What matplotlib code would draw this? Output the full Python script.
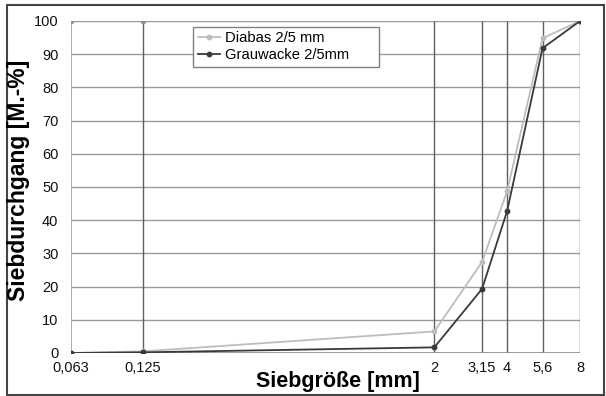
import matplotlib
matplotlib.use("Agg")
import matplotlib.pyplot as plt
from matplotlib.patches import Rectangle

plt.rcParams['font.family'] = ['Liberation Sans', 'DejaVu Sans']

sieve_sizes = [0.063, 0.125, 2, 3.15, 4, 5.6, 8]
tick_labels = ["0,063", "0,125", "2", "3,15", "4", "5,6", "8"]
diabas = [0, 0.5, 6.5, 27.4, 48.8, 94.8, 100]
grauwacke = [0, 0.2, 1.7, 19.3, 42.8, 91.8, 100]
sieve_lines = [0.125, 2, 3.15, 4, 5.6, 8]
marked_top = [0.063, 0.125]
y_ticks = list(range(0, 101, 10))

W, H = 606, 396
fig = plt.figure(figsize=(W / 100, H / 100), dpi=100)
ax = fig.add_axes([71 / W, 1 - 353 / H, (580 - 71) / W, (353 - 21) / H])

ax.set_xscale('log')
ax.set_xlim(0.063, 8)
ax.set_ylim(0, 100)

# horizontal grid
for y in y_ticks[1:]:
    ax.axhline(y, color='#9a9a9a', lw=1.0, zorder=1)
# vertical sieve lines
ax.vlines(sieve_lines, 0, 100, color='#606060', lw=1.0, zorder=1)
ax.vlines([sieve_sizes[0]], 0, 100, color='#a0a0a0', lw=1.2, zorder=1)
ax.plot(marked_top, [100] * len(marked_top), linestyle='none', marker='o',
        ms=3, color='#909090', zorder=2)

ax.plot(sieve_sizes, diabas, color='#bdbdbd', lw=1.3, marker='o', ms=3.2,
        label='Diabas 2/5 mm', zorder=3)
ax.plot(sieve_sizes, grauwacke, color='#3a3a3a', lw=1.3, marker='o', ms=3.2,
        label='Grauwacke 2/5mm', zorder=4)

for s in ax.spines.values():
    s.set_visible(False)
ax.axhline(0, color='#8a8a8a', lw=1.2, zorder=1)

ax.set_xticks(sieve_sizes)
ax.set_xticklabels(tick_labels)
ax.minorticks_off()
ax.set_yticks(y_ticks)
ax.tick_params(axis='both', length=0, labelsize=10.5, colors='#111111')
ax.tick_params(axis='x', pad=6)
ax.tick_params(axis='y', pad=9)

leg = ax.legend(loc='upper left', bbox_to_anchor=(0.240, 0.864, 0.365, 0.118),
                mode='expand', borderaxespad=0,
                fancybox=False, edgecolor='#808080', framealpha=1, fontsize=10.6,
                handlelength=1.55, handletextpad=0.3, borderpad=0.3,
                labelspacing=0.2)
leg.get_frame().set_linewidth(1.0)

fig.text(19 / W, 1 - 180 / H, 'Siebdurchgang [M.-%]', rotation=90, fontsize=16.5,
         fontweight='bold', ha='center', va='center')
fig.text(338 / W, 1 - 381 / H, 'Siebgröße [mm]', fontsize=15.5,
         fontweight='bold', ha='center', va='center')

fig.patches.append(Rectangle((7 / W, 1 / H), (604 - 7) / W, (391 - 1) / H,
                             transform=fig.transFigure, fill=False,
                             edgecolor='#444444', lw=1.5))

fig.savefig('out.png', dpi=100)
